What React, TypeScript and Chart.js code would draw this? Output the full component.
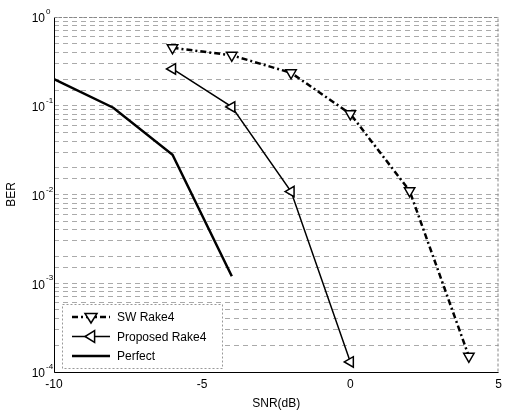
import React, { useEffect, useRef } from "react";
import { Chart, registerables } from "chart.js";
Chart.register(...registerables);

const snrSW = [-6, -4, -2, 0, 2, 4];
const berSW = [0.45, 0.37, 0.235, 0.081, 0.011, 0.00015];
const snrProposed = [-6, -4, -2, 0];
const berProposed = [0.26, 0.097, 0.0108, 0.00013];
const snrPerfect = [-10, -8, -6, -4];
const berPerfect = [0.2, 0.095, 0.028, 0.0012];
const xTicks = [-10, -5, 0, 5];
const yExponents = [0, -1, -2, -3, -4];
const seriesNames = ["SW Rake4", "Proposed Rake4", "Perfect"];

const FONT = "'Liberation Sans', Arial, sans-serif";

const toPts = (xs: number[], ys: number[]) => xs.map((x, i) => ({ x, y: ys[i] }));

const decorPlugin = {
  id: "decor",
  afterDraw(chart: any) {
    const ctx = chart.ctx;
    const xs = chart.scales.x;
    const ys = chart.scales.y;
    const a = chart.chartArea;
    ctx.save();
    // frame
    ctx.strokeStyle = "#000";
    ctx.lineWidth = 1;
    ctx.beginPath();
    ctx.moveTo(a.left + 0.5, a.top);
    ctx.lineTo(a.left + 0.5, a.bottom + 0.5);
    ctx.lineTo(a.right, a.bottom + 0.5);
    ctx.stroke();
    ctx.strokeStyle = "#888";
    ctx.setLineDash([3, 2]);
    ctx.beginPath();
    ctx.moveTo(a.left, a.top + 0.5);
    ctx.lineTo(a.right - 0.5, a.top + 0.5);
    ctx.lineTo(a.right - 0.5, a.bottom);
    ctx.stroke();
    ctx.setLineDash([]);
    // x tick labels
    ctx.fillStyle = "#000";
    ctx.font = `12px ${FONT}`;
    ctx.textAlign = "center";
    ctx.textBaseline = "top";
    xTicks.forEach((t) => {
      ctx.fillText(String(t), xs.getPixelForValue(t), a.bottom + 7);
    });
    // y tick labels 10^k
    yExponents.forEach((e) => {
      const py = ys.getPixelForValue(Math.pow(10, e));
      ctx.font = `12px ${FONT}`;
      ctx.textAlign = "right";
      ctx.textBaseline = "middle";
      ctx.fillText("10", a.left - 9, py + 2);
      ctx.font = `8px ${FONT}`;
      ctx.textAlign = "left";
      ctx.fillText(String(e), a.left - 8, py - 5);
    });
    // axis titles
    ctx.font = `12px ${FONT}`;
    ctx.textAlign = "center";
    ctx.textBaseline = "middle";
    ctx.fillText("SNR(dB)", (a.left + a.right) / 2, a.bottom + 32);
    ctx.save();
    ctx.translate(12, (a.top + a.bottom) / 2);
    ctx.rotate(-Math.PI / 2);
    ctx.fillText("BER", 0, 0);
    ctx.restore();
    // legend
    const lx = a.left + 8, ly = a.bottom - 68, lw = 160, lh = 64;
    ctx.fillStyle = "#fff";
    ctx.fillRect(lx, ly, lw, lh);
    ctx.strokeStyle = "#999";
    ctx.lineWidth = 1;
    ctx.setLineDash([2, 2]);
    ctx.strokeRect(lx + 0.5, ly + 0.5, lw, lh);
    ctx.setLineDash([]);
    chart.data.datasets.forEach((ds: any, i: number) => {
      const cy = ly + 13 + i * 19.5;
      const x0 = lx + 10, x1 = lx + 48, xm = (x0 + x1) / 2;
      ctx.strokeStyle = "#000";
      ctx.lineWidth = ds.borderWidth;
      ctx.setLineDash(ds.borderDash || []);
      ctx.beginPath();
      ctx.moveTo(x0, cy);
      ctx.lineTo(x1, cy);
      ctx.stroke();
      ctx.setLineDash([]);
      if (ds.pointRadius > 0) {
        ctx.lineWidth = 1.5;
        ctx.fillStyle = "#fff";
        ctx.strokeStyle = "#000";
        const r = ds.pointRadius;
        ctx.beginPath();
        if (ds.pointRotation === 180) {
          ctx.moveTo(xm - r, cy - r * 0.6);
          ctx.lineTo(xm + r, cy - r * 0.6);
          ctx.lineTo(xm, cy + r);
        } else {
          ctx.moveTo(xm + r * 0.6, cy - r);
          ctx.lineTo(xm + r * 0.6, cy + r);
          ctx.lineTo(xm - r, cy);
        }
        ctx.closePath();
        ctx.fill();
        ctx.stroke();
      }
      ctx.fillStyle = "#000";
      ctx.font = `12px ${FONT}`;
      ctx.textAlign = "left";
      ctx.textBaseline = "middle";
      ctx.fillText(ds.label, x1 + 7, cy + 1);
    });
    ctx.restore();
  },
};

export default function App() {
  const ref = useRef<HTMLCanvasElement>(null);
  useEffect(() => {
    const chart = new Chart(ref.current as HTMLCanvasElement, {
      type: "line",
      data: {
        datasets: [
          {
            label: seriesNames[0],
            data: toPts(snrSW, berSW),
            borderColor: "#000",
            borderWidth: 2.5,
            borderDash: [6, 3, 2, 3],
            pointStyle: "triangle",
            pointRotation: 180,
            pointRadius: 6,
            pointBorderWidth: 1.5,
            pointBackgroundColor: "#fff",
            pointBorderColor: "#000",
          },
          {
            label: seriesNames[1],
            data: toPts(snrProposed, berProposed),
            borderColor: "#000",
            borderWidth: 1.5,
            pointStyle: "triangle",
            pointRotation: -90,
            pointRadius: 6,
            pointBorderWidth: 1.5,
            pointBackgroundColor: "#fff",
            pointBorderColor: "#000",
          },
          {
            label: seriesNames[2],
            data: toPts(snrPerfect, berPerfect),
            borderColor: "#000",
            borderWidth: 2.5,
            pointRadius: 0,
          },
        ],
      },
      options: {
        animation: false,
        responsive: false,
        maintainAspectRatio: false,
        layout: { padding: { left: 54, top: 17, right: 3, bottom: 40 } },
        plugins: { legend: { display: false }, tooltip: { enabled: false } },
        scales: {
          x: {
            type: "linear",
            min: -10,
            max: 5,
            ticks: { display: false },
            grid: { display: false, drawTicks: false },
            border: { display: false },
          },
          y: {
            type: "logarithmic",
            min: 1e-4,
            max: 1,
            ticks: { display: false },
            grid: {
              color: "#aaa",
              lineWidth: 1,
              drawTicks: false,
            },
            border: { display: false, dash: [5, 4] },
          },
        },
      },
      plugins: [decorPlugin],
    } as any);
    return () => chart.destroy();
  }, []);
  return (
    <div style={{ position: "fixed", left: 0, top: 0, width: 506, height: 412, background: "#fff" }}>
      <canvas ref={ref} width={506} height={412} style={{ width: 506, height: 412 }} />
    </div>
  );
}
